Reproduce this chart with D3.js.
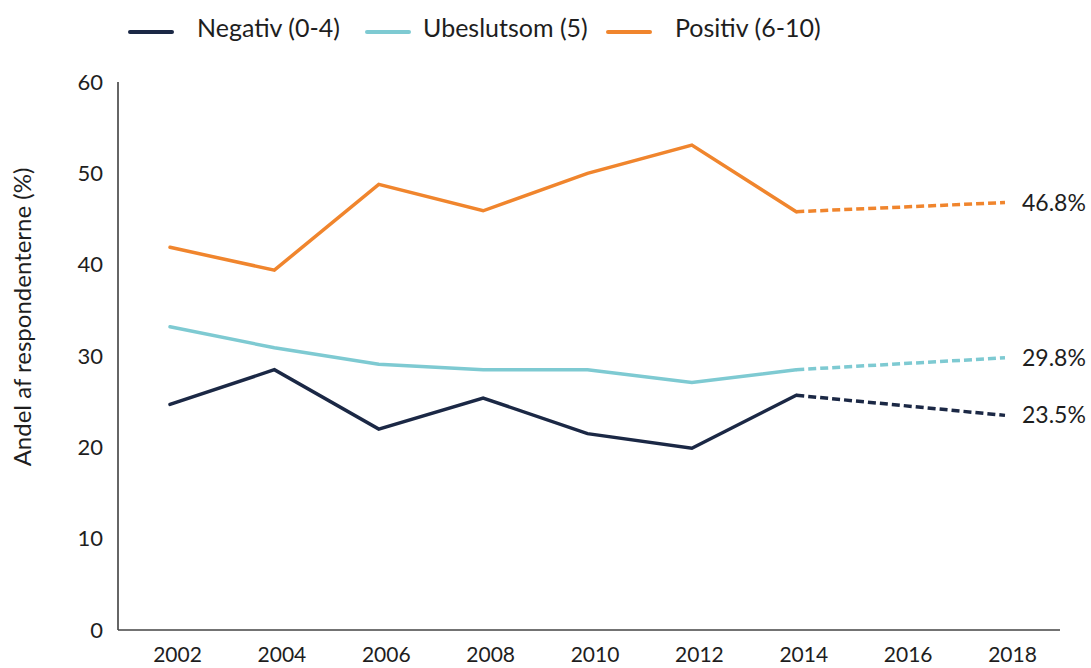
<!DOCTYPE html>
<html>
<head>
<meta charset="utf-8">
<script src="https://cdn.jsdelivr.net/npm/d3@7"></script>
<style>
  html, body { margin: 0; padding: 0; background: #fff; }
  svg { display: block; font-family: Lato, "Open Sans", sans-serif; }
</style>
</head>
<body>
<svg id="chart" width="1091" height="668"></svg>
<script>
// ---- data ----
const years = [2002, 2004, 2006, 2008, 2010, 2012, 2014, 2018];
const negativ    = [24.7, 28.5, 22.0, 25.4, 21.5, 19.9, 25.7, 23.5];
const ubeslutsom = [33.2, 30.9, 29.1, 28.5, 28.5, 27.1, 28.5, 29.8];
const positiv    = [41.9, 39.4, 48.8, 45.9, 50.0, 53.1, 45.8, 46.8];
const seriesNames = ["Negativ (0-4)", "Ubeslutsom (5)", "Positiv (6-10)"];
const endLabels = ["23.5%", "29.8%", "46.8%"];
const xTickYears = [2002, 2004, 2006, 2008, 2010, 2012, 2014, 2016, 2018];
const yTicks = [0, 10, 20, 30, 40, 50, 60];
const yTitle = "Andel af respondenterne (%)";
const forecastStart = 2014;

// ---- styling / layout ----
const colors = ["#1b2845", "#7ecad2", "#f0852d"];
const textColor = "#1e1e1e";
const axisLeftX = 118, axisRightX = 1060;

const svg = d3.select("#chart");
const x = d3.scaleLinear().domain([2002, 2018]).range([170, 1005]);
const y = d3.scaleLinear().domain([0, 60]).range([630, 82]);

// axis lines
svg.append("line")
  .attr("x1", axisLeftX).attr("x2", axisLeftX)
  .attr("y1", y(60)).attr("y2", y(0))
  .attr("stroke", "#333").attr("stroke-width", 1.5);
svg.append("line")
  .attr("x1", axisLeftX).attr("x2", axisRightX)
  .attr("y1", y(0)).attr("y2", y(0))
  .attr("stroke", "#444").attr("stroke-width", 1.5);

// y axis ticks
const yAxis = d3.axisLeft(y).tickValues(yTicks).tickSize(0).tickPadding(0).tickFormat(d3.format("d"));
const gy = svg.append("g").attr("transform", `translate(103,0)`).call(yAxis);
gy.select(".domain").remove();
gy.selectAll("text").attr("font-size", 22).attr("fill", textColor)
  .attr("font-family", "Lato, sans-serif");

// x axis ticks
const xAxis = d3.axisBottom(x).tickValues(xTickYears).tickSize(0).tickPadding(0).tickFormat(d3.format("d"));
const gx = svg.append("g").attr("transform", `translate(0,${y(0)})`).call(xAxis);
gx.select(".domain").remove();
gx.selectAll("text").attr("font-size", 21).attr("fill", textColor)
  .attr("font-family", "Lato, sans-serif")
  .attr("dx", 7).attr("dy", 0).attr("y", 32);

// y title
svg.append("text")
  .attr("transform", `translate(31,317) rotate(-90)`)
  .attr("text-anchor", "middle")
  .attr("font-size", 24).attr("fill", textColor)
  .text(yTitle);

// lines
const allSeries = [negativ, ubeslutsom, positiv];
const line = d3.line().x(d => x(d.year)).y(d => y(d.value));
allSeries.forEach((vals, i) => {
  const pts = years.map((yr, j) => ({ year: yr, value: vals[j] }));
  const solid = pts.filter(p => p.year <= forecastStart);
  const dashed = pts.filter(p => p.year >= forecastStart);
  svg.append("path").datum(solid).attr("d", line)
    .attr("fill", "none").attr("stroke", colors[i]).attr("stroke-width", 3.5)
    .attr("stroke-linejoin", "miter").attr("stroke-linecap", "round");
  svg.append("path").datum(dashed).attr("d", line)
    .attr("fill", "none").attr("stroke", colors[i]).attr("stroke-width", 3.5)
    .attr("stroke-dasharray", "8,4");
  const last = pts[pts.length - 1];
  svg.append("text")
    .attr("x", x(last.year) + 17).attr("y", y(last.value))
    .attr("dy", "0.35em")
    .attr("font-size", 23).attr("fill", textColor)
    .text(endLabels[i]);
});

// legend
const legendItems = [
  { lx: 130, tx: 197 },
  { lx: 367, tx: 423 },
  { lx: 608, tx: 675 }
];
legendItems.forEach((it, i) => {
  svg.append("line")
    .attr("x1", it.lx).attr("x2", it.lx + 42)
    .attr("y1", 32).attr("y2", 32)
    .attr("stroke", colors[i]).attr("stroke-width", 4).attr("stroke-linecap", "round");
  svg.append("text")
    .attr("x", it.tx).attr("y", 37)
    .attr("font-size", 25).attr("fill", textColor)
    .text(seriesNames[i]);
});
</script>
</body>
</html>
